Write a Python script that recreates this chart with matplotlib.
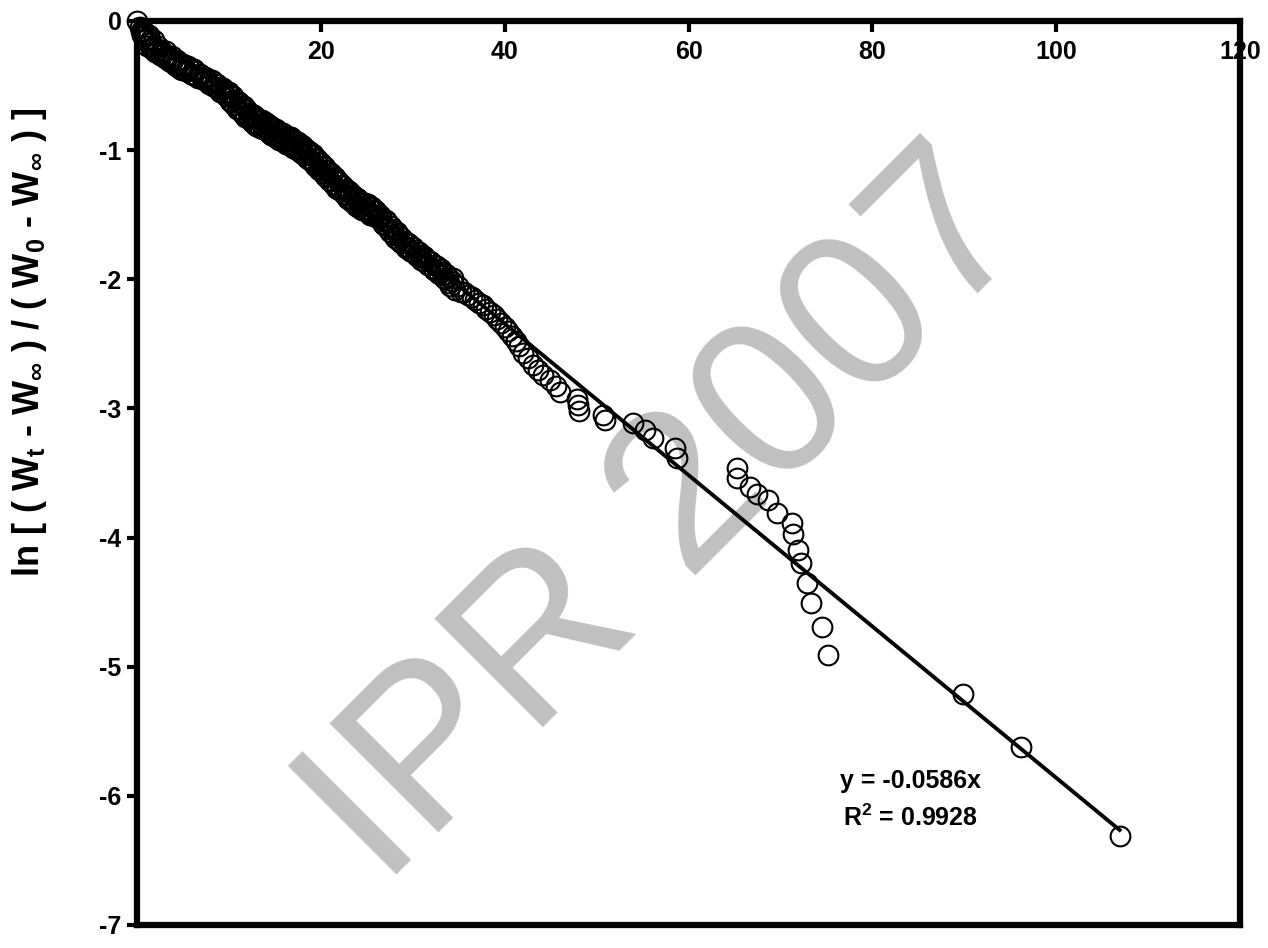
import numpy as np
import matplotlib.pyplot as plt

plt.rcParams['font.family'] = ['Liberation Sans', 'DejaVu Sans']
plt.rcParams['font.weight'] = 'bold'
plt.rcParams['axes.unicode_minus'] = False
plt.rcParams['mathtext.fontset'] = 'custom'
plt.rcParams['mathtext.rm'] = 'Liberation Sans:bold'
plt.rcParams['mathtext.it'] = 'Liberation Sans:bold'
plt.rcParams['mathtext.bf'] = 'Liberation Sans:bold'
plt.rcParams['mathtext.default'] = 'rm'

# time (x) and ln[(Wt-Winf)/(W0-Winf)] (y)
t_start = [0.0, 0.3, 0.5, 0.7, 0.9, 1.1, 1.3, 1.5, 1.8, 2.0, 2.3, 2.6, 2.9, 3.2, 3.5, 3.8,
           4.1, 4.4, 4.7, 5.0, 5.3, 5.6, 5.9, 6.2, 6.5, 6.8, 7.1, 7.4, 7.7, 8.0, 8.3, 8.6,
           8.9, 9.2, 9.5, 9.8,
           0.4, 0.8, 1.0, 1.2, 1.4, 1.65, 1.9, 2.15, 2.45, 2.75, 3.05, 3.35, 3.65, 3.95,
           4.25, 4.55, 4.85, 5.15, 5.45, 5.75, 6.05, 6.35, 6.65, 6.95, 7.25, 7.55, 7.85,
           8.15, 8.45, 8.75, 9.05, 9.35, 9.65, 9.9]
ln_start = [0.00, -0.05, -0.11, -0.07, -0.15, -0.19, -0.11, -0.21, -0.15, -0.24, -0.19, -0.26,
            -0.28, -0.23, -0.31, -0.27, -0.34, -0.30, -0.37, -0.33, -0.39, -0.35, -0.41, -0.37,
            -0.43, -0.41, -0.44, -0.43, -0.47, -0.46, -0.50, -0.49, -0.53, -0.52, -0.56, -0.55,
            -0.08, -0.12, -0.10, -0.17, -0.15, -0.22, -0.20, -0.24, -0.26, -0.23, -0.29, -0.27,
            -0.32, -0.30, -0.35, -0.33, -0.38, -0.35, -0.39, -0.37, -0.42, -0.39, -0.44, -0.42,
            -0.46, -0.44, -0.49, -0.46, -0.51, -0.49, -0.55, -0.52, -0.58, -0.55]

t_mid = [10.0, 10.2, 10.4, 10.6, 10.8, 11.0, 11.2, 11.4, 11.6, 11.8, 12.0, 12.2, 12.4, 12.6,
         12.8, 13.0, 13.2, 13.4, 13.6, 13.8, 14.0, 14.2, 14.4, 14.6, 14.8, 15.0, 15.2, 15.4,
         15.6, 15.8, 16.0, 16.2, 16.4, 16.6, 16.8, 17.0, 17.2, 17.4, 17.6, 17.8, 18.0, 18.2,
         18.4, 18.6, 18.8, 19.0, 19.2, 19.4, 19.6, 19.8, 20.0, 20.2, 20.4, 20.6, 20.8, 21.0,
         21.2, 21.4, 21.6, 21.8, 22.0, 22.2, 22.4, 22.6, 22.8, 23.0, 23.2, 23.4, 23.6, 23.8,
         24.0, 24.2, 24.4, 24.6, 24.8, 25.0, 25.2, 25.4, 25.6, 25.8,
         10.1, 10.3, 10.5, 10.7, 10.9, 11.1, 11.3, 11.5, 11.7, 11.9, 12.1, 12.3, 12.5, 12.7,
         12.9, 13.1, 13.3, 13.5, 13.7, 13.9, 14.1, 14.3, 14.5, 14.7, 14.9, 15.1, 15.3, 15.5,
         15.7, 15.9, 16.1, 16.3, 16.5, 16.7, 16.9, 17.1, 17.3, 17.5, 17.7, 17.9, 18.1, 18.3,
         18.5, 18.7, 18.9, 19.1, 19.3, 19.5, 19.7, 19.9, 20.1, 20.3, 20.5, 20.7, 20.9, 21.1,
         21.3, 21.5, 21.7, 21.9, 22.1, 22.3, 22.5, 22.7, 22.9, 23.1, 23.3, 23.5, 23.7, 23.9,
         24.1, 24.3, 24.5, 24.7, 24.9, 25.1, 25.3, 25.5, 25.7, 25.9]
ln_mid = [-0.55, -0.63, -0.58, -0.65, -0.61, -0.68, -0.64, -0.71, -0.66, -0.74, -0.69, -0.76,
          -0.72, -0.79, -0.74, -0.81, -0.76, -0.83, -0.77, -0.84, -0.79, -0.86, -0.81, -0.88,
          -0.83, -0.90, -0.85, -0.92, -0.86, -0.93, -0.88, -0.95, -0.90, -0.96, -0.91, -0.98,
          -0.93, -1.00, -0.95, -1.02, -0.97, -1.04, -0.99, -1.07, -1.02, -1.09, -1.04, -1.12,
          -1.07, -1.15, -1.10, -1.18, -1.13, -1.21, -1.16, -1.24, -1.19, -1.27, -1.22, -1.30,
          -1.25, -1.32, -1.28, -1.35, -1.31, -1.38, -1.33, -1.40, -1.36, -1.43, -1.38, -1.45,
          -1.40, -1.46, -1.41, -1.48, -1.43, -1.50, -1.44, -1.51,
          -0.62, -0.58, -0.65, -0.61, -0.68, -0.63, -0.70, -0.66, -0.73, -0.68, -0.75, -0.71,
          -0.78, -0.73, -0.80, -0.75, -0.82, -0.77, -0.84, -0.78, -0.85, -0.80, -0.87, -0.82,
          -0.89, -0.84, -0.91, -0.86, -0.92, -0.87, -0.94, -0.89, -0.96, -0.90, -0.97, -0.92,
          -0.99, -0.94, -1.01, -0.96, -1.03, -0.98, -1.06, -1.01, -1.08, -1.03, -1.11, -1.06,
          -1.14, -1.09, -1.17, -1.12, -1.20, -1.15, -1.23, -1.18, -1.26, -1.21, -1.29, -1.24,
          -1.31, -1.27, -1.34, -1.30, -1.37, -1.32, -1.39, -1.35, -1.42, -1.37, -1.44, -1.39,
          -1.46, -1.41, -1.47, -1.42, -1.49, -1.44, -1.50, -1.46]

t_late = [26.0, 26.3, 26.6, 26.9, 27.2, 27.5, 27.8, 28.1, 28.4, 28.7, 29.0, 29.3, 29.6, 29.9,
          30.2, 30.5, 30.8, 31.1, 31.4, 31.7, 32.0, 32.3, 32.6, 32.9, 33.2, 33.5, 33.8, 34.1,
          34.4, 34.6, 34.9, 35.2, 35.6, 36.0, 36.4, 36.8, 37.2, 37.6, 38.0, 38.4, 38.8, 39.2,
          39.6, 40.0, 40.4, 40.8, 41.2, 41.6, 42.0, 42.5, 43.1, 43.6, 44.2, 44.9, 45.6, 46.0,
          47.9, 48.0, 48.1,
          26.15, 26.45, 26.75, 27.05, 27.35, 27.65, 27.95, 28.25, 28.55, 28.85, 29.15, 29.45,
          29.75, 30.05, 30.35, 30.65, 30.95, 31.25, 31.55, 31.85, 32.15, 32.45, 32.75, 33.05,
          33.35, 33.65, 33.95, 34.25]
ln_late = [-1.47, -1.53, -1.52, -1.58, -1.56, -1.63, -1.61, -1.68, -1.65, -1.72, -1.70, -1.76,
           -1.73, -1.79, -1.77, -1.82, -1.81, -1.86, -1.84, -1.89, -1.87, -1.93, -1.90, -1.96,
           -1.94, -2.00, -1.98, -2.05, -1.99, -2.08, -2.05, -2.10, -2.10, -2.12, -2.14, -2.16,
           -2.18, -2.20, -2.23, -2.25, -2.28, -2.31, -2.34, -2.37, -2.40, -2.44, -2.48, -2.52,
           -2.57, -2.61, -2.66, -2.70, -2.74, -2.78, -2.83, -2.87, -2.93, -2.97, -3.02,
           -1.52, -1.50, -1.57, -1.54, -1.61, -1.59, -1.66, -1.63, -1.70, -1.68, -1.74, -1.72,
           -1.78, -1.75, -1.81, -1.79, -1.85, -1.82, -1.88, -1.86, -1.91, -1.89, -1.95, -1.92,
           -1.99, -1.96, -2.03, -2.01]

t_tail = [50.7, 50.9, 54.0, 55.3, 56.1, 58.5, 58.8, 65.3, 65.3, 66.7, 67.5, 68.6, 69.6, 71.3,
          71.4, 71.9, 72.2, 72.9, 73.3, 74.5, 75.2, 89.9, 96.2, 106.9]
ln_tail = [-3.05, -3.09, -3.11, -3.17, -3.23, -3.31, -3.38, -3.46, -3.54, -3.61, -3.66, -3.71,
           -3.81, -3.89, -3.97, -4.10, -4.20, -4.35, -4.51, -4.69, -4.91, -5.21, -5.62, -6.31]

slope = -0.0586
r_squared = 0.9928

x_ticks = [0, 20, 40, 60, 80, 100, 120]
x_tick_labels = ['', '20', '40', '60', '80', '100', '120']
y_ticks = [0, -1, -2, -3, -4, -5, -6, -7]

t = np.array(t_start + t_mid + t_late + t_tail)
ln_ratio = np.array(ln_start + ln_mid + ln_late + ln_tail)

fig = plt.figure(figsize=(12.68, 9.48), dpi=100)
ax = fig.add_axes([137 / 1268, 1 - 925 / 948, 1103 / 1268, 904 / 948])

ax.plot(t, ln_ratio, 'o', ms=14.2, mfc='none', mec='black', mew=1.5,
        clip_on=False, zorder=3)
x_fit = np.array([0, t.max()])
ax.plot(x_fit, slope * x_fit, color='black', lw=2.8, zorder=4)

ax.set_xlim(0, 120)
ax.set_ylim(-7, 0)
ax.xaxis.tick_top()
ax.set_xticks(x_ticks)
ax.set_xticklabels(x_tick_labels)
ax.set_yticks(y_ticks)
ax.tick_params(axis='x', direction='in', length=8, width=3, pad=-31, labelsize=18)
ax.tick_params(axis='y', direction='out', length=7, width=3, pad=4, labelsize=18)
for s in ax.spines.values():
    s.set_linewidth(4.5)

ax.text(84.2, -5.94, 'y = %.4fx' % slope, ha='center', va='baseline', fontsize=18)
ax.text(84.2, -6.23, 'R$^2$ = %.4f' % r_squared, ha='center', va='baseline', fontsize=18)

# watermark
ax.text(383 / 1268, 1 - 889 / 948, 'IPR 2007', transform=fig.transFigure,
        rotation=45, rotation_mode='anchor', ha='left', va='baseline',
        fontsize=160, fontweight='normal', color='#c0c0c0', zorder=0, clip_on=False)

fig.text(30 / 1268, 1 - 342 / 948,
         r'ln [ ( W$_{t}$ - W$_{\infty}$ ) / ( W$_{0}$ - W$_{\infty}$ ) ]',
         rotation=90, ha='center', va='center', fontsize=26)

fig.savefig('out.png', dpi=100)
